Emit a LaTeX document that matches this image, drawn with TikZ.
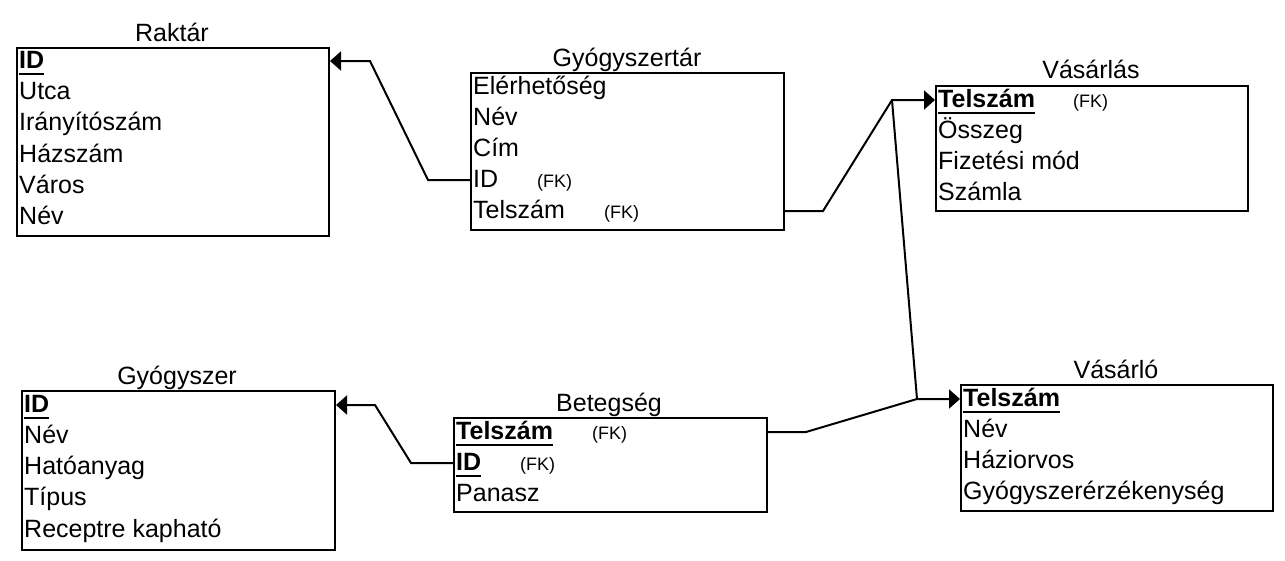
\documentclass[tikz,border=0pt]{standalone}
\usepackage{fontspec}
\setmainfont{Liberation Sans}
\usetikzlibrary{arrows.meta}
\newcommand\keyul[1]{\setbox0\hbox{\bfseries #1}\rlap{\rule[-7pt]{\wd0}{2pt}}\box0}
\begin{document}
\begin{tikzpicture}[x=1pt,y=-1pt,
 ebox/.style={draw, line width=2pt, anchor=north west, inner sep=0pt},
 row/.style={anchor=base west, inner sep=0pt, text height=14pt, text depth=0pt, font=\fontsize{25}{30}\selectfont},
 ttl/.style={anchor=base, inner sep=0pt, font=\fontsize{25}{30}\selectfont},
 fk/.style={anchor=base west, inner sep=0pt, font=\fontsize{18}{22}\selectfont},
 conn/.style={line width=2pt, line join=miter, -{Triangle[length=11pt,width=19pt]}},
 plain/.style={line width=2pt}]
\fill[white] (0,0) rectangle (1285,560);
\useasboundingbox (0,0) rectangle (1285,560);

% Raktar
\node[ebox, minimum width=312pt, minimum height=188pt] (rak) at (16,47) {};
\node[ttl] (rakt) at (172,41) {Raktár};
\node[row] (rakid) at (19,68) {\keyul{ID}};
\node[row] (rak2) at (19,99) {Utca};
\node[row] (rak3) at (19,130) {Irányítószám};
\node[row] (rak4) at (19,162) {Házszám};
\node[row] (rak5) at (19,193) {Város};
\node[row] (rak6) at (19,224) {Név};

% Gyogyszertar
\node[ebox, minimum width=313pt, minimum height=157pt] (gyt) at (470,72) {};
\node[ttl] (gytt) at (627,66) {Gyógyszertár};
\node[row] (gyt1) at (473,94) {Elérhetőség};
\node[row] (gyt2) at (473,125) {Név};
\node[row] (gyt3) at (473,156) {Cím};
\node[row] (gytid) at (473,187) {ID};
\node[fk] (gytidfk) at (537,187) {(FK)};
\node[row] (gyttel) at (473,218) {Telszám};
\node[fk] (gyttelfk) at (604,218) {(FK)};

% Vasarlas
\node[ebox, minimum width=312pt, minimum height=125pt] (vas) at (935,85) {};
\node[ttl] (vast) at (1091,78) {Vásárlás};
\node[row] (vastel) at (938,107) {\keyul{Telszám}};
\node[fk] (vastelfk) at (1073,107) {(FK)};
\node[row] (vas2) at (938,138) {Összeg};
\node[row] (vas3) at (938,169) {Fizetési mód};
\node[row] (vas4) at (938,200) {Számla};

% Vasarlo
\node[ebox, minimum width=312pt, minimum height=126pt] (vlo) at (960,384) {};
\node[ttl] (vlot) at (1116,378) {Vásárló};
\node[row] (vlotel) at (963,406) {\keyul{Telszám}};
\node[row] (vlo2) at (963,437) {Név};
\node[row] (vlo3) at (963,468) {Háziorvos};
\node[row] (vlo4) at (963,499) {Gyógyszerérzékenység};

% Gyogyszer
\node[ebox, minimum width=313pt, minimum height=159pt] (gysz) at (21,390) {};
\node[ttl] (gyszt) at (177,384) {Gyógyszer};
\node[row] (gyszid) at (24,412) {\keyul{ID}};
\node[row] (gysz2) at (24,443) {Név};
\node[row] (gysz3) at (24,474) {Hatóanyag};
\node[row] (gysz4) at (24,505) {Típus};
\node[row] (gysz5) at (24,537) {Receptre kapható};

% Betegseg
\node[ebox, minimum width=313pt, minimum height=94pt] (bet) at (453,417) {};
\node[ttl] (bett) at (609,411) {Betegség};
\node[row] (bettel) at (456,439) {\keyul{Telszám}};
\node[fk] (bettelfk) at (592,439) {(FK)};
\node[row] (betid) at (456,470) {\keyul{ID}};
\node[fk] (betidfk) at (520,470) {(FK)};
\node[row] (bet3) at (456,501) {Panasz};

% bend points
\coordinate (c1) at (428,180);
\coordinate (c2) at (370,61);
\coordinate (c3) at (823,211);
\coordinate (j1) at (892,100);
\coordinate (j2) at (917,399);
\coordinate (c4) at (806,432);
\coordinate (c5) at (411,463);
\coordinate (c6) at (375,405);

\draw[conn] (gyt.west |- gytid) -- (c1) -- (c2) -- (rak.east |- rakid);
\draw[conn] (gyt.east |- gyttel) -- (c3) -- (j1) -- (vas.west |- vastel);
\draw[plain] (j1) -- (j2);
\draw[conn] (bet.east |- bettel) -- (c4) -- (j2) -- (vlo.west |- vlotel);
\draw[conn] (bet.west |- betid) -- (c5) -- (c6) -- (gysz.east |- gyszid);
\end{tikzpicture}
\end{document}
